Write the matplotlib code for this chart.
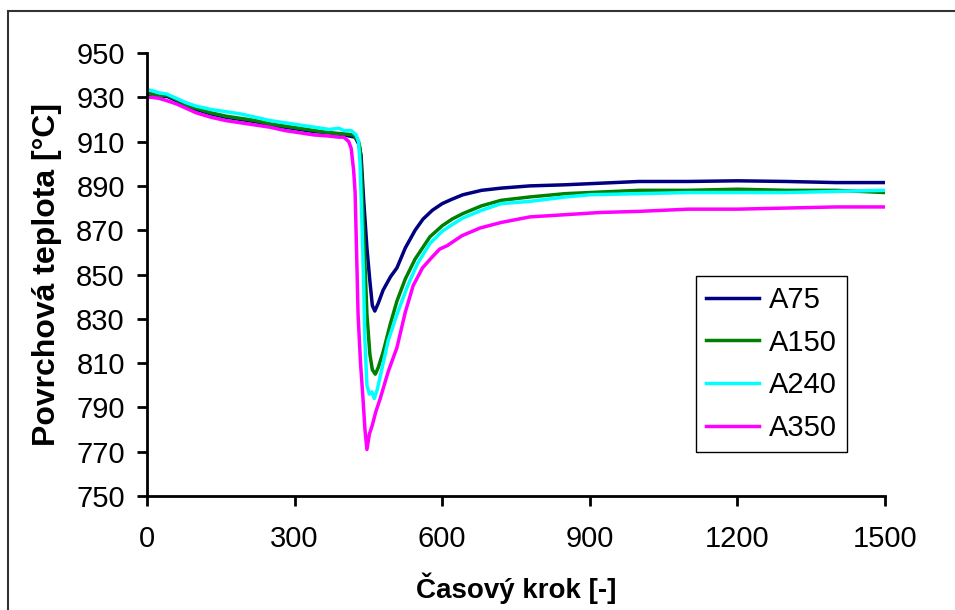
import matplotlib
matplotlib.use("Agg")
from matplotlib import pyplot as plt
from matplotlib.patches import Rectangle

plt.rcParams["font.family"] = ["Liberation Sans", "DejaVu Sans"]

# A75
x_a75 = [0, 10, 25, 40, 60, 80, 100, 130, 160, 190, 220, 250, 280, 310, 340, 370, 400, 423,
         430, 435, 440, 447, 453, 458, 463, 470, 480, 495, 508, 525, 545, 561, 580, 600, 620,
         642, 680, 720, 778, 850, 900, 1000, 1100, 1200, 1300, 1400, 1500]
t_a75 = [931, 931, 930, 930.5, 928.5, 926, 924.5, 922.5, 921, 920, 919, 917.5, 916.5, 915.5, 914.5, 914, 913, 912,
         909, 904, 885, 862, 847, 836, 833.5, 837, 843, 849, 853, 862, 870, 875, 879, 882, 884,
         886, 888, 889, 890, 890.5, 891, 892, 892, 892.3, 892, 891.5, 891.5]

# A150
x_a150 = [0, 10, 25, 40, 60, 80, 100, 130, 160, 190, 220, 250, 280, 310, 340, 370, 400, 420,
          430, 433, 436, 439, 443, 447, 453, 458, 464, 470, 480, 495, 508, 525, 545, 575, 600, 620,
          642, 680, 720, 778, 850, 900, 1000, 1100, 1200, 1300, 1400, 1450, 1500]
t_a150 = [932, 931.5, 930.5, 931, 929, 926.5, 925, 923, 921.5, 920.5, 919.5, 918, 917, 916, 915, 914, 913.5, 913,
          910, 907, 895, 878, 855, 832, 814, 807, 805, 808, 815, 828, 838, 848, 857, 867, 872, 875,
          877.5, 881, 883.5, 885, 886.5, 887, 888, 888, 888.5, 888, 888, 887.5, 887]

# A240
x_a240 = [0, 10, 25, 40, 60, 80, 100, 130, 160, 190, 220, 250, 280, 310, 340, 370, 390, 400, 415, 425,
          430, 433, 436, 440, 443, 447, 452, 457, 462, 468, 475, 490, 508, 530, 550, 575, 600, 620,
          642, 680, 720, 778, 850, 900, 1000, 1100, 1200, 1300, 1400, 1500]
t_a240 = [933.5, 933, 932, 931.5, 929.5, 927.5, 926, 924.5, 923.5, 922.5, 921, 919.5, 918.5, 917.5, 916.5, 915.5, 916, 915, 915, 913,
          910, 900, 880, 850, 820, 800, 796, 797, 794, 798, 805, 820, 832, 845, 855, 864, 869.5, 872.5,
          875.5, 879, 882, 883, 885, 886, 886.5, 887, 887, 887, 887.5, 888]

# A350
x_a350 = [0, 10, 25, 40, 60, 80, 100, 130, 160, 190, 220, 250, 280, 310, 340, 370, 390, 400, 410, 415,
          420, 423, 426, 429, 434, 439, 443, 447, 452, 458, 465, 474, 490, 508, 525, 541, 560, 580, 595,
          610, 640, 677, 720, 778, 850, 921, 1000, 1100, 1200, 1300, 1400, 1500]
t_a350 = [930, 930, 929.5, 928.5, 927, 925, 923, 921, 919.5, 918.5, 917.5, 916.5, 915, 914, 913, 912.5, 912, 912, 910, 907,
          897, 887, 860, 832, 810, 794, 780, 771, 778, 782, 788, 794, 806, 817, 833, 845, 853, 858, 861.5,
          863, 867.5, 871, 873.5, 876, 877, 878, 878.5, 879.5, 879.5, 880, 880.5, 880.5]

series = [("A75", x_a75, t_a75, "#000080"),
          ("A150", x_a150, t_a150, "#008000"),
          ("A240", x_a240, t_a240, "#00FFFF"),
          ("A350", x_a350, t_a350, "#FF00FF")]

fig = plt.figure(figsize=(9.55, 6.1), dpi=100)
ax = fig.add_axes([147 / 955, 1 - 496 / 610, 738 / 955, 443 / 610])

for name, xs, ts, col in series:
    ax.plot(xs, ts, "-", color=col, lw=2.5, label=name)

ax.set_xlim(0, 1500)
ax.set_ylim(750, 950)
ax.set_xticks(range(0, 1501, 300))
ax.set_yticks(range(750, 951, 20))
ax.spines["top"].set_visible(False)
ax.spines["right"].set_visible(False)
for s in ("left", "bottom"):
    ax.spines[s].set_linewidth(2)
ax.tick_params(direction="out", length=7, width=2, labelsize=21, pad=9)
ax.tick_params(axis="x", pad=14)

ax.set_xlabel("Časový krok [-]", fontsize=20, fontweight="bold", labelpad=14)
ax.set_ylabel("Povrchová teplota [°C]", fontsize=23, fontweight="bold", labelpad=10)

leg = ax.legend(loc="lower right", bbox_to_anchor=(0.9485, 0.0993), borderaxespad=0,
                fontsize=21, fancybox=False, framealpha=1, handlelength=1.8,
                labelspacing=0.5, borderpad=0.35, handletextpad=0.35)
leg.get_frame().set_edgecolor("black")
leg.get_frame().set_linewidth(1)

# outer chart frame
fig.add_artist(Rectangle((8 / 955, -0.1), 1.2, 1.1 - 11 / 610, transform=fig.transFigure,
                         fill=False, edgecolor="#333333", lw=1.5))

plt.savefig("out.png", dpi=100)
